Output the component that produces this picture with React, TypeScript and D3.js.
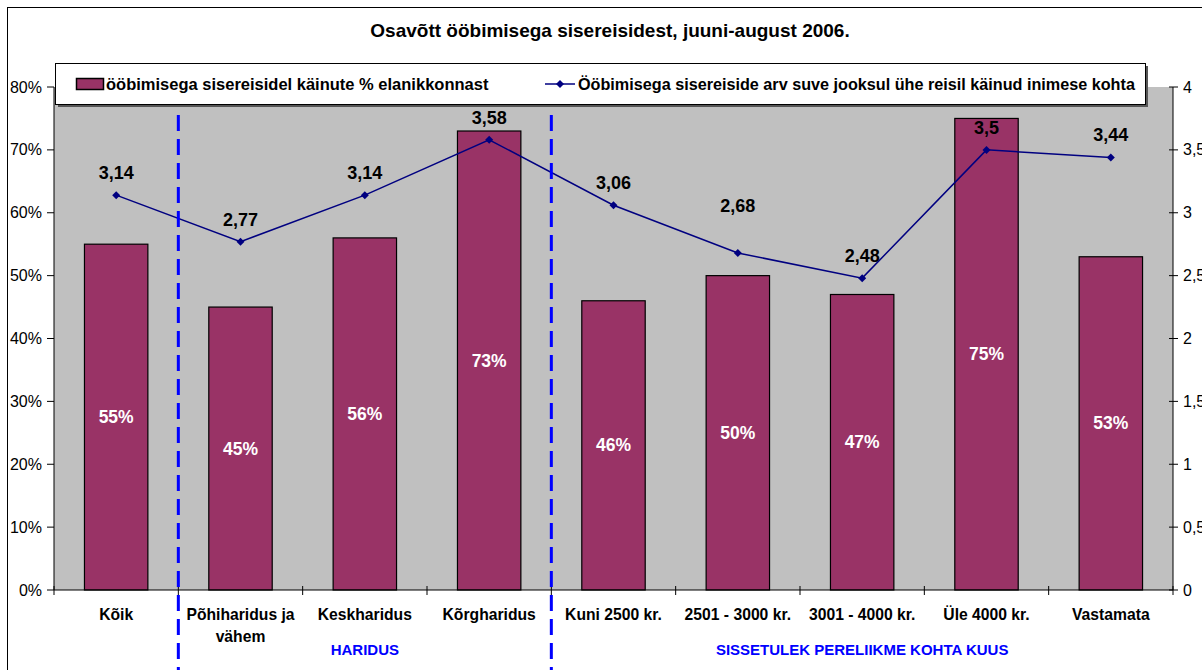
import React from "react";
import * as d3 from "d3";

const categories: string[][] = [
  ["Kõik"],
  ["Põhiharidus ja", "vähem"],
  ["Keskharidus"],
  ["Kõrgharidus"],
  ["Kuni 2500 kr."],
  ["2501 - 3000 kr."],
  ["3001 - 4000 kr."],
  ["Üle 4000 kr."],
  ["Vastamata"],
];
const barValues = [0.55, 0.45, 0.56, 0.73, 0.46, 0.5, 0.47, 0.75, 0.53];
const lineValues = [3.14, 2.77, 3.14, 3.58, 3.06, 2.68, 2.48, 3.5, 3.44];
const leftTicks = [0, 0.1, 0.2, 0.3, 0.4, 0.5, 0.6, 0.7, 0.8];
const rightTicks = [0, 0.5, 1, 1.5, 2, 2.5, 3, 3.5, 4];
const groups = [
  { label: "HARIDUS", from: 1, to: 3 },
  { label: "SISSETULEK PERELIIKME KOHTA KUUS", from: 4, to: 8 },
];
const separators = [1, 4];
const title = "Osavõtt ööbimisega sisereisidest, juuni-august 2006.";
const legendBar = "ööbimisega sisereisidel käinute % elanikkonnast";
const legendLine = "Ööbimisega sisereiside arv suve jooksul ühe reisil käinud inimese kohta";

const W = 1202;
const H = 670;
const FONT = "'Liberation Sans', Arial, sans-serif";

export default function App() {
  const left = 54;
  const right = 1173;
  const top = 87;
  const bottom = 590;
  const x = d3
    .scaleBand<number>()
    .domain(d3.range(categories.length))
    .range([left, right])
    .paddingInner(0)
    .paddingOuter(0);
  const bw = x.bandwidth() * 0.51;
  const yL = d3.scaleLinear().domain([0, 0.8]).range([bottom, top]);
  const yR = d3.scaleLinear().domain([0, 4]).range([bottom, top]);
  const cx = (i: number) => (x(i) as number) + x.bandwidth() / 2;
  const line = d3
    .line<number>()
    .x((_, i) => cx(i))
    .y((d) => yR(d));
  const fmtPct = d3.format(".0%");
  const fmtComma = (v: number) => String(v).replace(".", ",");
  const diamond = (px: number, py: number, r = 4) =>
    `M${px},${py - r}L${px + r},${py}L${px},${py + r}L${px - r},${py}Z`;
  const labelOffset = (i: number) => (i === 5 ? 41 : 16);

  return (
    <svg
      width={W}
      height={H}
      style={{ position: "absolute", left: 0, top: 0, fontFamily: FONT }}
    >
      <rect x={0} y={0} width={W} height={H} fill="#fff" />
      <rect x={7.5} y={7.5} width={W + 20} height={H + 20} fill="#fff" stroke="#000" strokeWidth={1} />
      <text x={610} y={37} textAnchor="middle" fontSize={19} fontWeight="bold">
        {title}
      </text>
      {/* plot area */}
      <rect x={left} y={top} width={right - left} height={bottom - top} fill="#C0C0C0" />
      {/* bars */}
      {barValues.map((v, i) => (
        <rect
          key={i}
          x={cx(i) - bw / 2}
          y={yL(v)}
          width={bw}
          height={bottom - yL(v)}
          fill="#993366"
          stroke="#000"
          strokeWidth={1.2}
        />
      ))}
      {barValues.map((v, i) => (
        <text
          key={"bl" + i}
          x={cx(i)}
          y={(yL(v) + bottom) / 2 + 6}
          textAnchor="middle"
          fontSize={17.5}
          fontWeight="bold"
          fill="#fff"
        >
          {fmtPct(v)}
        </text>
      ))}
      {/* axes */}
      <line x1={left} x2={left} y1={top} y2={bottom} stroke="#000" />
      <line x1={right} x2={right} y1={top} y2={bottom} stroke="#000" />
      <line x1={left} x2={right} y1={bottom} y2={bottom} stroke="#000" />
      {leftTicks.map((t) => (
        <g key={"lt" + t}>
          <line x1={left - 7} x2={left} y1={yL(t)} y2={yL(t)} stroke="#000" />
          <text x={42} y={yL(t) + 5.5} textAnchor="end" fontSize={16}>
            {fmtPct(t)}
          </text>
        </g>
      ))}
      {rightTicks.map((t) => (
        <g key={"rt" + t}>
          <line x1={right - 4} x2={right + 5} y1={yR(t)} y2={yR(t)} stroke="#000" />
          <text x={1183} y={yR(t) + 5.5} textAnchor="start" fontSize={16}>
            {fmtComma(t)}
          </text>
        </g>
      ))}
      {d3.range(categories.length + 1).map((i) => {
        const px = left + i * x.bandwidth();
        return <line key={"xt" + i} x1={px} x2={px} y1={bottom - 4} y2={bottom + 5} stroke="#000" />;
      })}
      {categories.map((lines, i) => (
        <text key={"cl" + i} x={cx(i)} y={620} textAnchor="middle" fontSize={15.7} fontWeight="bold">
          {lines.map((l, j) => (
            <tspan key={j} x={cx(i)} dy={j === 0 ? 0 : 22}>
              {l}
            </tspan>
          ))}
        </text>
      ))}
      {groups.map((g) => (
        <text
          key={g.label}
          x={(cx(g.from) + cx(g.to)) / 2}
          y={655}
          textAnchor="middle"
          fontSize={15}
          fontWeight="bold"
          fill="#0000FF"
        >
          {g.label}
        </text>
      ))}
      {/* line series */}
      <path d={line(lineValues) || ""} fill="none" stroke="#000080" strokeWidth={1.5} />
      {lineValues.map((v, i) => (
        <path key={"m" + i} d={diamond(cx(i), yR(v))} fill="#000080" />
      ))}
      {lineValues.map((v, i) => (
        <text
          key={"ll" + i}
          x={cx(i)}
          y={yR(v) - labelOffset(i)}
          textAnchor="middle"
          fontSize={18}
          fontWeight="bold"
        >
          {fmtComma(v)}
        </text>
      ))}
      {/* dashed separators */}
      {separators.map((s) => {
        const px = left + s * x.bandwidth();
        return (
          <line
            key={"sep" + s}
            x1={px}
            x2={px}
            y1={115}
            y2={H}
            stroke="#0000FF"
            strokeWidth={3}
            strokeDasharray="16,8"
          />
        );
      })}
      {/* legend */}
      <rect x={58} y={66} width={1090} height={41} fill="#555" />
      <rect x={55.5} y={63.5} width={1090} height={41} fill="#fff" stroke="#000" />
      <rect x={76.5} y={78.5} width={27} height={11} fill="#993366" stroke="#000" strokeWidth={1.5} />
      <text x={106} y={90} fontSize={16.5} fontWeight="bold">
        {legendBar}
      </text>
      <line x1={545} x2={575} y1={84} y2={84} stroke="#000080" strokeWidth={1.5} />
      <path d={diamond(560, 84)} fill="#000080" />
      <text x={578} y={90} fontSize={16.2} fontWeight="bold">
        {legendLine}
      </text>
    </svg>
  );
}
